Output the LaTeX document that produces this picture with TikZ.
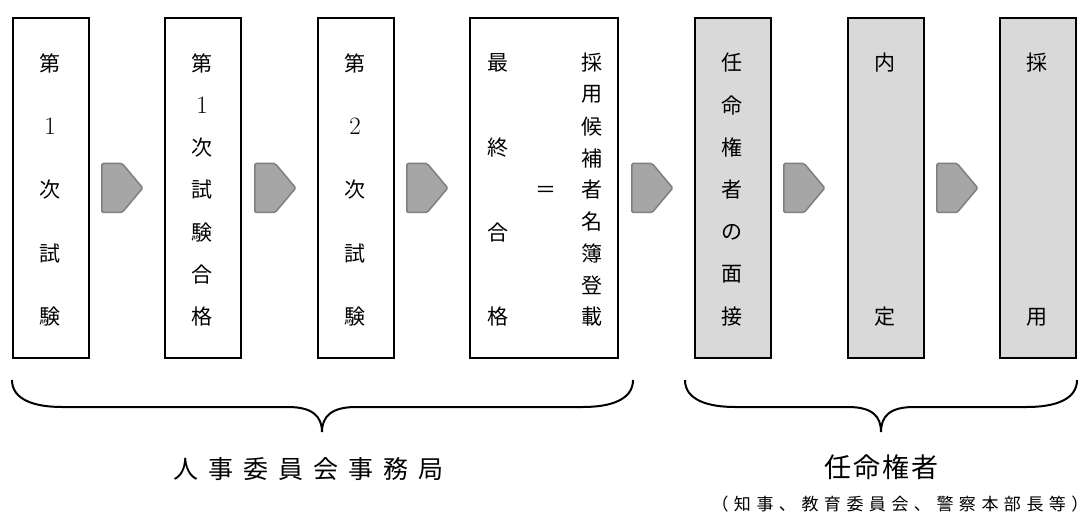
\documentclass[tikz,border=0pt]{standalone}
\usepackage{fontspec}
\newfontfamily\jp{Noto Sans CJK JP}
\usetikzlibrary{shapes.symbols}
\definecolor{boxgray}{HTML}{D9D9D9}
\definecolor{arrfill}{HTML}{A6A6A6}
\definecolor{arredge}{HTML}{7F7F7F}
\newcommand\vtext[4]{%
  \foreach \c [count=\i] in {#3} {\node[glyph] (#1\i) at (#2,{63+(\i-1)*254/(#4-1)}) {\c};}}
\newcommand\gpa{\hspace{10pt}}
\newcommand\gpb{\hspace{2pt}}
\newcommand\gpc{\hspace{5.5pt}}
\newcommand\digit[1]{{\rmfamily\fontsize{25}{25}\selectfont #1}}
\begin{document}
\begin{tikzpicture}[x=1pt,y=-1pt,
  stage/.style={draw=black, line width=2pt, fill=white, minimum width=76pt,
    minimum height=340pt, inner sep=0pt, anchor=north west},
  later/.style={stage, fill=boxgray},
  arr/.style={signal, signal to=east, signal pointer angle=100, fill=arrfill,
    draw=arredge, line width=1.5pt, minimum width=41pt, minimum height=49pt,
    inner sep=0pt, rounded corners=1.5pt, anchor=west},
  glyph/.style={font=\jp\fontsize{21}{21}\selectfont, inner sep=0pt},
  brace/.style={draw=black, line width=2pt},
  label/.style={inner sep=0pt}]
\useasboundingbox (0,0) rectangle (1090,513);
% boxes
\node[stage] (b1) at (12,17) {};
\node[stage] (b2) at (164,17) {};
\node[stage] (b3) at (317,17) {};
\node[stage, minimum width=148pt] (b4) at (469,17) {};
\node[later] (b5) at (694,17) {};
\node[later] (b6) at (847,17) {};
\node[later] (b7) at (999,17) {};
% arrows
\node[arr] (a1) at ([xshift=11pt]b1.east) {};
\node[arr] (a2) at ([xshift=12pt]b2.east) {};
\node[arr] (a3) at ([xshift=11pt]b3.east) {};
\node[arr] (a4) at ([xshift=12pt]b4.east) {};
\node[arr] (a5) at ([xshift=11pt]b5.east) {};
\node[arr] (a6) at ([xshift=11pt]b6.east) {};
% texts in boxes
\vtext{t1-}{50}{第,\digit{1},次,試,験}{5}
\vtext{t2-}{202}{第,\digit{1},次,試,験,合,格}{7}
\vtext{t3-}{355}{第,\digit{2},次,試,験}{5}
\vtext{t4-}{498}{最,終,合,格}{4}
\node[glyph] (eq) at (546,192) {＝};
\vtext{t4r-}{592}{採,用,候,補,者,名,簿,登,載}{9}
\vtext{t5-}{732}{任,命,権,者,の,面,接}{7}
\vtext{t6-}{885}{内,定}{2}
\vtext{t7-}{1037}{採,用}{2}
% braces
\draw[brace] (12,380) .. controls (12,400) and (35,407) .. (62,407)
  -- (288,407) .. controls (312,407) and (322,416) .. (322,432)
  .. controls (322,416) and (332,407) .. (356,407)
  -- (583,407) .. controls (610,407) and (633,400) .. (633,380);
\draw[brace] (685,380) .. controls (685,400) and (708,407) .. (735,407)
  -- (848,407) .. controls (872,407) and (881,416) .. (881,432)
  .. controls (881,416) and (890,407) .. (914,407)
  -- (1027,407) .. controls (1054,407) and (1077,400) .. (1077,380);
% labels
\node[label, font=\jp\fontsize{25}{25}\selectfont] (l1) at (308,469)
  {人\gpa 事\gpa 委\gpa 員\gpa 会\gpa 事\gpa 務\gpa 局};
\node[label, font=\jp\fontsize{27}{27}\selectfont] (l2) at (881,467)
  {任\gpb 命\gpb 権\gpb 者};
\node[label, font=\jp\fontsize{17}{17}\selectfont] (l3) at (900,504)
  {（\gpc 知\gpc 事\gpc 、\gpc 教\gpc 育\gpc 委\gpc 員\gpc 会\gpc 、\gpc 警\gpc 察\gpc 本\gpc 部\gpc 長\gpc 等\gpc ）};
\end{tikzpicture}
\end{document}
